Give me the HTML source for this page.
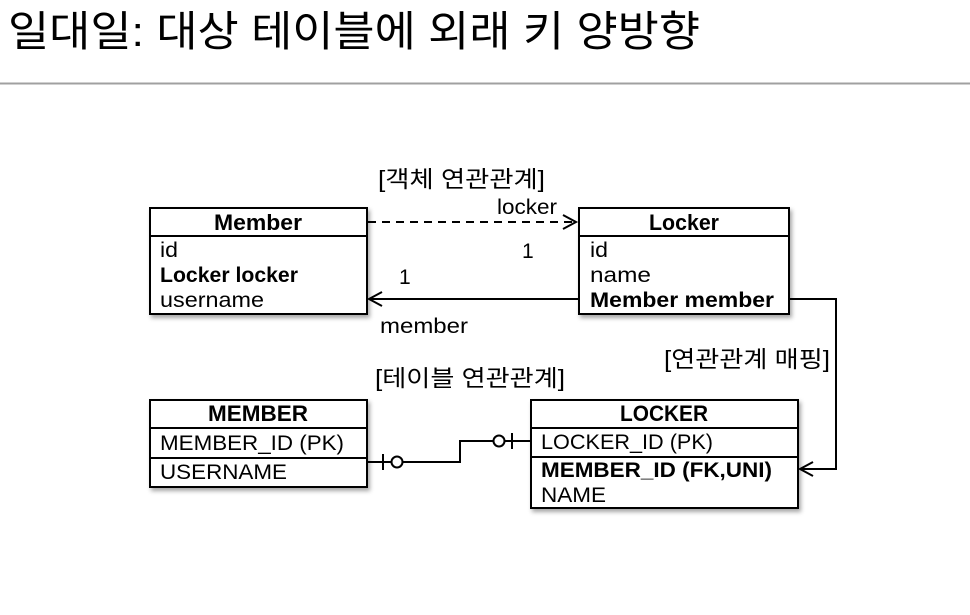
<!DOCTYPE html>
<html><head><meta charset="utf-8"><style>
html,body{margin:0;padding:0;background:#fff;width:970px;height:615px;overflow:hidden}
svg text{font-family:"Liberation Sans","Noto Sans CJK KR",sans-serif;fill:#000}
</style></head><body>
<svg width="970" height="615" viewBox="0 0 970 615" xmlns="http://www.w3.org/2000/svg">
<defs>
<filter id="sh" x="-10%" y="-10%" width="130%" height="130%"><feDropShadow dx="2" dy="3" stdDeviation="2" flood-color="#000" flood-opacity="0.35"/></filter>
</defs>
<text x="8" y="46" font-size="42" textLength="692" lengthAdjust="spacingAndGlyphs">일대일: 대상 테이블에 외래 키 양방향</text>
<line x1="0" y1="83.5" x2="970" y2="83.5" stroke="#a0a0a0" stroke-width="2"/>

<!-- Member -->
<g filter="url(#sh)"><rect x="150" y="208" width="217" height="106" fill="#fff" stroke="#000" stroke-width="2"/></g>
<line x1="150" y1="236" x2="367" y2="236" stroke="#000" stroke-width="2"/>
<text x="258" y="230" font-size="22" font-weight="bold" text-anchor="middle" textLength="88" lengthAdjust="spacingAndGlyphs">Member</text>
<text x="160" y="257" font-size="21" textLength="18" lengthAdjust="spacingAndGlyphs">id</text>
<text x="160" y="282" font-size="21" font-weight="bold" textLength="138" lengthAdjust="spacingAndGlyphs">Locker locker</text>
<text x="160" y="307" font-size="21" textLength="104" lengthAdjust="spacingAndGlyphs">username</text>

<!-- Locker -->
<g filter="url(#sh)"><rect x="579" y="208" width="210" height="106" fill="#fff" stroke="#000" stroke-width="2"/></g>
<line x1="579" y1="236" x2="789" y2="236" stroke="#000" stroke-width="2"/>
<text x="684" y="230" font-size="22" font-weight="bold" text-anchor="middle" textLength="70" lengthAdjust="spacingAndGlyphs">Locker</text>
<text x="590" y="257" font-size="21" textLength="18" lengthAdjust="spacingAndGlyphs">id</text>
<text x="590" y="282" font-size="21" textLength="61" lengthAdjust="spacingAndGlyphs">name</text>
<text x="590" y="307" font-size="21" font-weight="bold" textLength="184" lengthAdjust="spacingAndGlyphs">Member member</text>

<!-- object connectors -->
<line x1="368" y1="222" x2="574" y2="222" stroke="#000" stroke-width="2" stroke-dasharray="8,6"/>
<polyline points="563,215 576,222 563,229" fill="none" stroke="#000" stroke-width="2"/>
<line x1="371" y1="299" x2="579" y2="299" stroke="#000" stroke-width="2"/>
<polyline points="382,292 369,299 382,306" fill="none" stroke="#000" stroke-width="2"/>
<polyline points="789,299 836,299 836,469 802,469" fill="none" stroke="#000" stroke-width="2"/>
<polyline points="813,462 800,469 813,476" fill="none" stroke="#000" stroke-width="2"/>

<text x="378" y="187" font-size="23" textLength="167" lengthAdjust="spacingAndGlyphs">[객체 연관관계]</text>
<text x="497" y="214" font-size="21" textLength="60" lengthAdjust="spacingAndGlyphs">locker</text>
<text x="522" y="258" font-size="21">1</text>
<text x="399" y="284" font-size="21">1</text>
<text x="380" y="333" font-size="21" textLength="88" lengthAdjust="spacingAndGlyphs">member</text>
<text x="664" y="367" font-size="23" textLength="166" lengthAdjust="spacingAndGlyphs">[연관관계 매핑]</text>
<text x="375" y="386" font-size="23" textLength="190" lengthAdjust="spacingAndGlyphs">[테이블 연관관계]</text>

<!-- MEMBER table -->
<g filter="url(#sh)"><rect x="150" y="400" width="217" height="87" fill="#fff" stroke="#000" stroke-width="2"/></g>
<line x1="150" y1="428" x2="367" y2="428" stroke="#000" stroke-width="2"/>
<line x1="150" y1="458" x2="367" y2="458" stroke="#000" stroke-width="2"/>
<text x="258" y="421" font-size="22" font-weight="bold" text-anchor="middle" textLength="100" lengthAdjust="spacingAndGlyphs">MEMBER</text>
<text x="160" y="450" font-size="21" textLength="184" lengthAdjust="spacingAndGlyphs">MEMBER_ID (PK)</text>
<text x="160" y="479" font-size="21" textLength="127" lengthAdjust="spacingAndGlyphs">USERNAME</text>

<!-- LOCKER table -->
<g filter="url(#sh)"><rect x="531" y="400" width="267" height="108" fill="#fff" stroke="#000" stroke-width="2"/></g>
<line x1="531" y1="428" x2="798" y2="428" stroke="#000" stroke-width="2"/>
<line x1="531" y1="457" x2="798" y2="457" stroke="#000" stroke-width="2"/>
<text x="664" y="421" font-size="22" font-weight="bold" text-anchor="middle" textLength="88" lengthAdjust="spacingAndGlyphs">LOCKER</text>
<text x="541" y="449" font-size="21" textLength="172" lengthAdjust="spacingAndGlyphs">LOCKER_ID (PK)</text>
<text x="541" y="477" font-size="21" font-weight="bold" textLength="231" lengthAdjust="spacingAndGlyphs">MEMBER_ID (FK,UNI)</text>
<text x="541" y="502" font-size="21" textLength="65" lengthAdjust="spacingAndGlyphs">NAME</text>

<!-- ER connector -->
<polyline points="367,462 460,462 460,441 531,441" fill="none" stroke="#000" stroke-width="2"/>
<line x1="383" y1="454" x2="383" y2="470" stroke="#000" stroke-width="2"/>
<circle cx="397" cy="462" r="5.5" fill="#fff" stroke="#000" stroke-width="2"/>
<circle cx="499" cy="441" r="5.5" fill="#fff" stroke="#000" stroke-width="2"/>
<line x1="512" y1="433" x2="512" y2="449" stroke="#000" stroke-width="2"/>
</svg>
</body></html>
